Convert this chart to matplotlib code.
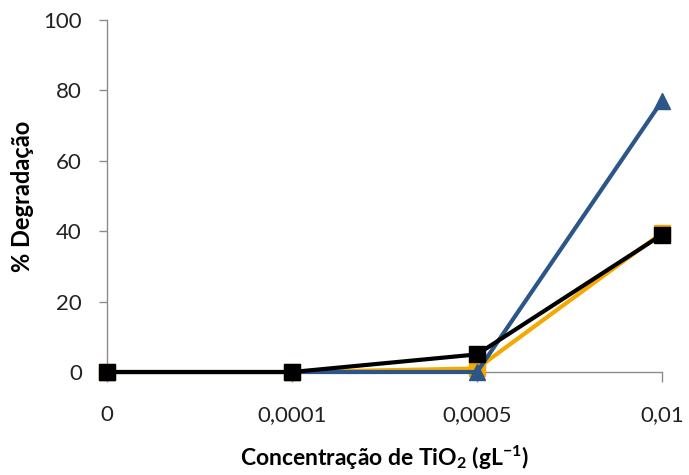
import numpy as np
import matplotlib
matplotlib.use('Agg')
from matplotlib import pyplot as plt

plt.rcParams['font.family'] = ['Lato', 'DejaVu Sans']
plt.rcParams['mathtext.default'] = 'regular'

categories = ['0', '0,0001', '0,0005', '0,01']
serie_laranja = [0, 0, 1, 39.5]
serie_azul = [0, 0, 0, 77]
serie_preta = [0, 0, 5, 39]

x = np.arange(len(categories))

fig = plt.figure(figsize=(6.89, 4.75), dpi=100)
ax = fig.add_axes([0.1553, 0.2168, 0.8055, 0.7411])

ax.plot(x, serie_laranja, color='#f7a800', lw=3, marker='s', ms=11,
        mfc='#f7a800', mec='#f7a800', clip_on=False, zorder=3)
ax.plot(x, serie_azul, color='#2b5687', lw=3, marker='^', ms=12,
        mfc='#2b5687', mec='#2b5687', clip_on=False, zorder=4)
ax.plot(x, serie_preta, color='black', lw=3, marker='s', ms=11,
        mfc='black', mec='black', clip_on=False, zorder=5)

ax.set_xlim(0, 3)
ax.set_ylim(0, 100)
ax.set_yticks(range(0, 101, 20))
ax.set_xticks(x)
ax.set_xticklabels(categories)

for s in ['top', 'right']:
    ax.spines[s].set_visible(False)
for s in ['left', 'bottom']:
    ax.spines[s].set_color('#8c8c8c')
    ax.spines[s].set_linewidth(1)

ax.tick_params(axis='y', length=6, width=1, color='#8c8c8c', pad=12,
               labelsize=16, labelcolor='#222222')
ax.tick_params(axis='x', length=7, width=1, color='#8c8c8c', pad=17,
               labelsize=16, labelcolor='#222222')

ax.set_ylabel('% Degradação', fontsize=17, fontweight='bold', va='center')
ax.set_xlabel('Concentração de TiO$_2$ (gL$^{-1}$)', fontsize=16.5,
              fontweight='bold', va='center')
ax.yaxis.set_label_coords(-0.153, 0.5)
ax.xaxis.set_label_coords(0.5, -0.243)

plt.savefig('out.png', dpi=100)
